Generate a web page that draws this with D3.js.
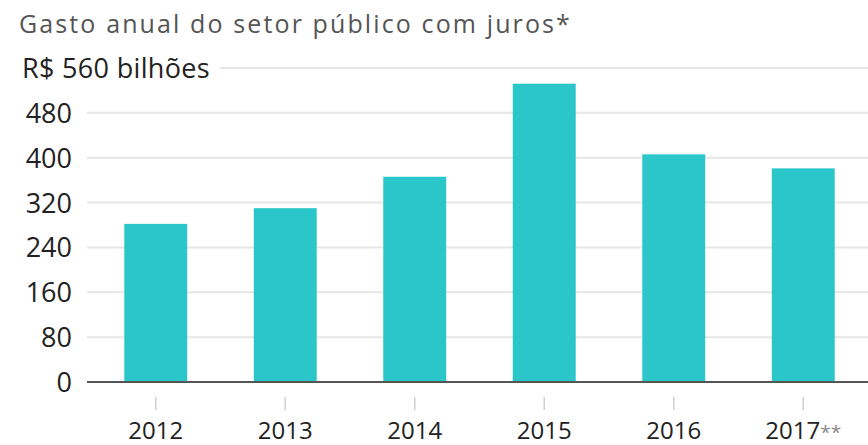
<!DOCTYPE html>
<html>
<head>
<meta charset="utf-8">
<script src="https://cdn.jsdelivr.net/npm/d3@7"></script>
<style>
  body { margin: 0; background: #fff; }
  text { font-family: "Open Sans", sans-serif; }
</style>
</head>
<body>
<svg id="chart" width="868" height="445"></svg>
<script>
// data
var years = ["2012", "2013", "2014", "2015", "2016", "2017**"]
var gasto = [282, 310, 366, 532, 406, 381]
var yTicks = [0, 80, 160, 240, 320, 400, 480, 560]

var svg = d3.select("#chart")
var plotLeft = 87, plotRight = 868, plotTop = 68, plotBottom = 382

var x = d3.scaleBand().domain(years).range([91, 868]).paddingInner(0.514).paddingOuter(0.257)
var y = d3.scaleLinear().domain([0, 560]).range([plotBottom, plotTop])

// stretch a text to a given width with letter spacing (font is narrower than the original)
function fitWidth(sel, target) {
  var node = sel.node()
  var len = node.getComputedTextLength()
  var n = node.textContent.length
  sel.style("letter-spacing", ((target - len) / n) + "px")
}

// title
var title = svg.append("text")
  .attr("x", 19).attr("y", 33)
  .style("font-size", "25px").style("fill", "#555")
  .text("Gasto anual do setor público com juros*")
fitWidth(title, 553)

// gridlines
svg.append("g").selectAll("line").data(yTicks.filter(function(d) { return d > 0 }))
  .join("line")
  .attr("x1", function(d) { return d == 560 ? 220 : plotLeft })
  .attr("x2", plotRight)
  .attr("y1", function(d) { return y(d) }).attr("y2", function(d) { return y(d) })
  .style("stroke", "#e6e6e6").style("stroke-width", 2)

// y labels
var yl = svg.append("g").selectAll("text").data(yTicks)
  .join("text")
  .attr("x", function(d) { return d == 560 ? 22 : 72 })
  .attr("y", function(d) { return y(d) + 10 })
  .attr("text-anchor", function(d) { return d == 560 ? "start" : "end" })
  .style("font-size", "27px").style("fill", "#222")
  .text(function(d) { return d == 560 ? "R$ 560 bilhões" : d })
yl.filter(function(d) { return d == 560 }).each(function() { fitWidth(d3.select(this), 188) })

// bars
svg.append("g").selectAll("rect").data(gasto)
  .join("rect")
  .attr("x", function(d, i) { return x(years[i]) })
  .attr("y", function(d) { return y(d) })
  .attr("width", x.bandwidth())
  .attr("height", function(d) { return y(0) - y(d) })
  .style("fill", "#2ac6ca")

// baseline
svg.append("line")
  .attr("x1", plotLeft).attr("x2", plotRight)
  .attr("y1", y(0)).attr("y2", y(0))
  .style("stroke", "#555").style("stroke-width", 2)

// x ticks + labels
var xg = svg.append("g").selectAll("g").data(years).join("g")
  .attr("transform", function(d) { return "translate(" + (x(d) + x.bandwidth() / 2) + ",0)" })
xg.append("line")
  .attr("y1", 397).attr("y2", 410)
  .style("stroke", "#d0d0d0").style("stroke-width", 1.5)
xg.append("text")
  .attr("y", 439)
  .attr("text-anchor", "middle")
  .style("font-size", "24px").style("fill", "#222")
  .each(function(d) {
    var t = d3.select(this)
    var base = d.replace(/\*+$/, "")
    var stars = d.slice(base.length)
    t.append("tspan").text(base)
    if (stars) t.append("tspan").style("fill", "#888").style("font-size", "19px").text(stars)
  })
</script>
</body>
</html>
